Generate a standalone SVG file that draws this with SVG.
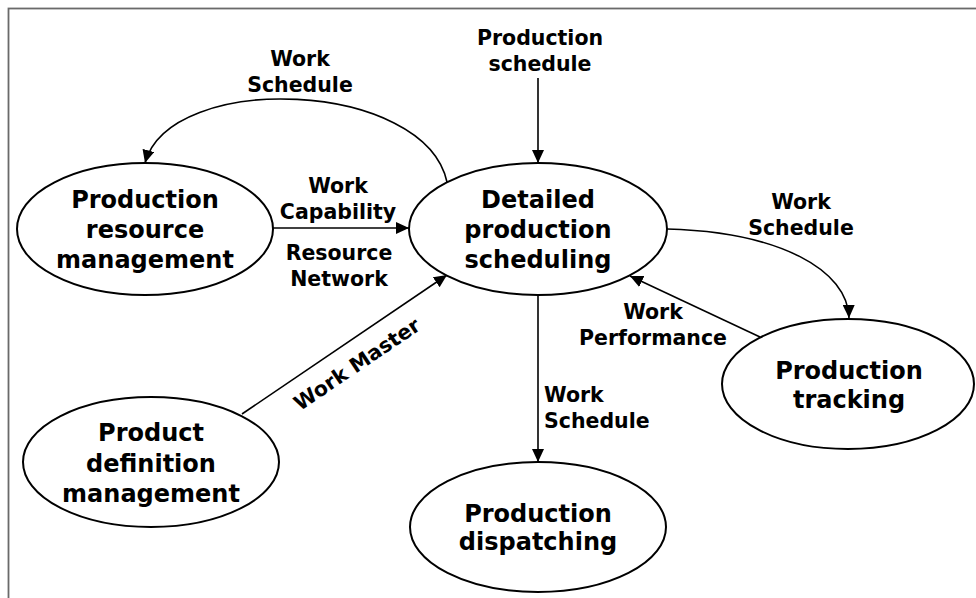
<svg xmlns="http://www.w3.org/2000/svg" width="976" height="598" viewBox="0 0 976 598">
<style>
.node ellipse{fill:#fff;stroke:#000;stroke-width:2}
.node text{font-family:"DejaVu Sans",Verdana,sans-serif;font-weight:bold;font-size:24px;text-anchor:middle;fill:#000}
.lbl{font-family:"DejaVu Sans",Verdana,sans-serif;font-weight:bold;font-size:20.5px;fill:#000}
.c{fill:none;stroke:#000;stroke-width:1.6;marker-end:url(#ah)}
</style>
<defs>
<marker id="ah" markerUnits="userSpaceOnUse" markerWidth="14" markerHeight="12" refX="13" refY="6" orient="auto">
<path d="M0,0 L13,6 L0,12 Z" fill="#000"/>
</marker>
</defs>
<rect x="8.5" y="8.5" width="1000" height="1000" fill="#fff" stroke="#6a6a6a" stroke-width="1.8"/>
<g id="connectors">
<path class="c" d="M538,78 L538,163"/>
<path class="c" d="M447,182 C425,80 170,70 145,163"/>
<path class="c" d="M273,228 L409,228"/>
<path class="c" d="M242,414 L447,275"/>
<path class="c" d="M667,229 C780,232 848,270 849,318"/>
<path class="c" d="M760,337 L630,276"/>
<path class="c" d="M538,295 L538,462"/>
</g>
<g id="labels">
<text class="lbl" text-anchor="middle" x="300" y="66">Work</text>
<text class="lbl" text-anchor="middle" x="300" y="92">Schedule</text>
<text class="lbl" text-anchor="middle" x="540" y="45">Production</text>
<text class="lbl" text-anchor="middle" x="540" y="71">schedule</text>
<text class="lbl" text-anchor="middle" x="338" y="193">Work</text>
<text class="lbl" text-anchor="middle" x="338" y="219">Capability</text>
<text class="lbl" text-anchor="middle" x="339" y="260">Resource</text>
<text class="lbl" text-anchor="middle" x="339" y="286">Network</text>
<text class="lbl" text-anchor="middle" transform="translate(361,370) rotate(-34)">Work Master</text>
<text class="lbl" text-anchor="middle" x="801" y="209">Work</text>
<text class="lbl" text-anchor="middle" x="801" y="235">Schedule</text>
<text class="lbl" text-anchor="middle" x="653" y="319">Work</text>
<text class="lbl" text-anchor="middle" x="653" y="345">Performance</text>
<text class="lbl" x="544" y="402">Work</text>
<text class="lbl" x="544" y="428">Schedule</text>
</g>
<g id="resource" class="node">
<ellipse cx="145" cy="229" rx="128" ry="66"/>
<text x="145" y="208">Production</text>
<text x="145" y="238">resource</text>
<text x="145" y="268">management</text>
</g>
<g id="scheduling" class="node">
<ellipse cx="538" cy="229" rx="129" ry="66"/>
<text x="538" y="208">Detailed</text>
<text x="538" y="238">production</text>
<text x="538" y="268">scheduling</text>
</g>
<g id="definition" class="node">
<ellipse cx="151" cy="462" rx="128" ry="65"/>
<text x="151" y="441">Product</text>
<text x="151" y="472">definition</text>
<text x="151" y="502">management</text>
</g>
<g id="dispatching" class="node">
<ellipse cx="538" cy="527" rx="128" ry="65"/>
<text x="538" y="522">Production</text>
<text x="538" y="550">dispatching</text>
</g>
<g id="tracking" class="node">
<ellipse cx="848" cy="384" rx="126" ry="65"/>
<text x="849" y="379">Production</text>
<text x="849" y="408">tracking</text>
</g>
</svg>
